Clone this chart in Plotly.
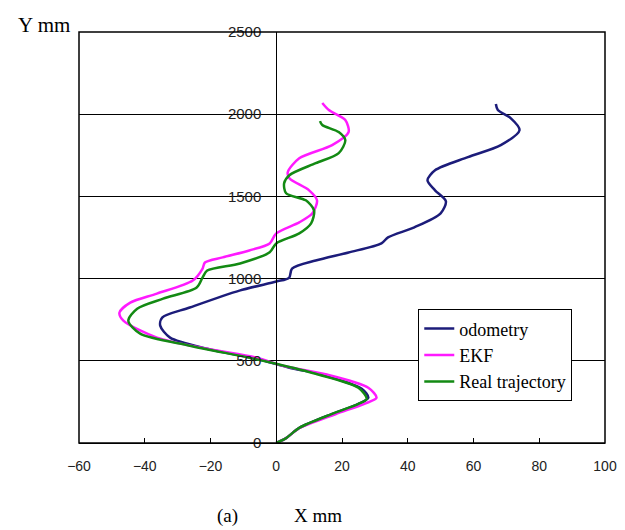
import plotly.graph_objects as go

# Odometry trajectory (X mm, Y mm)
odo_x = [0, 3, 7, 17, 25, 28, 26, 13, 4, -6, -21, -32.3, -35.3, -34.7, -26.3, -11.2, 0, 3.9, 4.8, 12, 22, 32, 34, 42, 50, 51.6, 48.3, 46, 48.3, 58.3, 68.3, 74, 71.3, 67.4, 66.8]
odo_y = [0, 30, 92, 177, 238, 275, 330, 420, 458, 512, 573, 641, 714, 763, 824, 927, 982, 1005, 1061, 1110, 1159, 1214, 1251, 1312, 1397, 1470, 1537, 1598, 1659, 1739, 1812, 1903, 1976, 2025, 2062]

# EKF estimate
ekf_x = [0, 3, 7, 18, 27, 30.5, 28, 15, 2, -6, -21, -36.3, -46.5, -47.7, -44.4, -36.3, -25.4, -22.4, -21.7, -16.3, -8.2, -2, 0, 7, 11, 12.4, 10, 4, 3.5, 7, 17, 22, 21, 16, 14]
ekf_y = [0, 30, 90, 175, 240, 275, 336, 418, 470, 519, 573, 641, 744, 793, 854, 909, 988, 1061, 1098, 1129, 1171, 1214, 1275, 1342, 1397, 1476, 1537, 1610, 1647, 1732, 1812, 1891, 1964, 2025, 2068]

# Real trajectory
real_x = [0, 3, 7, 17, 25, 27.5, 25, 12, 0, -8.2, -26.3, -41.4, -45, -42.3, -34.4, -24.2, -22.4, -21, -11, -2, 0, 7, 10.6, 11.5, 9, 3, 2.4, 4, 12, 19, 21, 19, 14, 13.3]
real_y = [0, 30, 92, 177, 238, 268, 336, 421, 482, 519, 592, 665, 744, 817, 878, 946, 1007, 1049, 1092, 1160, 1214, 1275, 1336, 1415, 1476, 1519, 1580, 1629, 1702, 1763, 1842, 1891, 1934, 1958]

x_ticks = [-60, -40, -20, 0, 20, 40, 60, 80, 100]
y_ticks = [0, 500, 1000, 1500, 2000, 2500]

serif = "Liberation Serif, Times New Roman, serif"
sans = "Liberation Sans, Arial, sans-serif"

fig = go.Figure()
fig.add_trace(go.Scatter(x=odo_x, y=odo_y, mode="lines", name="odometry",
                         line=dict(color="#1c1c7a", width=2.5, shape="spline", smoothing=0.8)))
fig.add_trace(go.Scatter(x=ekf_x, y=ekf_y, mode="lines", name="EKF",
                         line=dict(color="#ff1aff", width=2.5, shape="spline", smoothing=0.8)))
fig.add_trace(go.Scatter(x=real_x, y=real_y, mode="lines", name="Real trajectory",
                         line=dict(color="#138a13", width=2.5, shape="spline", smoothing=0.8)))

fig.update_layout(
    width=617, height=522,
    margin=dict(l=71, r=20, t=24, b=87, autoexpand=False),
    paper_bgcolor="white", plot_bgcolor="white",
    showlegend=True,
    legend=dict(x=0.645, y=0.325, xanchor="left", yanchor="top",
                bgcolor="white", bordercolor="black", borderwidth=1,
                font=dict(family=serif, size=18, color="black"),
                itemwidth=30, tracegroupgap=0),
    xaxis=dict(range=[-60, 100], tickvals=x_ticks, ticks="inside", ticklen=5,
               tickcolor="black", showgrid=False, zeroline=False, automargin=False,
               showline=True, linecolor="black", linewidth=1,
               ticklabelstandoff=10,
               tickfont=dict(family=sans, size=14, color="#222")),
    yaxis=dict(range=[0, 2500], tickvals=y_ticks, anchor="free", position=0.375,
               showgrid=True, gridcolor="black", gridwidth=1, zeroline=False,
               automargin=False,
               showline=True, linecolor="black", linewidth=1, ticks="",
               ticklabelstandoff=12,
               tickfont=dict(family=sans, size=15, color="#222")),
    shapes=[dict(type="rect", xref="paper", yref="paper", x0=0, x1=1, y0=0, y1=1,
                 line=dict(color="black", width=1.5), layer="above")],
    annotations=[
        dict(text="Y mm", xref="paper", yref="paper", x=-0.066, y=1.017,
             xanchor="center", yanchor="middle", showarrow=False,
             font=dict(family=serif, size=21, color="black")),
        dict(text="X mm", xref="paper", yref="paper", x=0.455, y=-0.177,
             xanchor="center", yanchor="middle", showarrow=False,
             font=dict(family=serif, size=19, color="black")),
        dict(text="(a)", xref="paper", yref="paper", x=0.282, y=-0.177,
             xanchor="center", yanchor="middle", showarrow=False,
             font=dict(family=serif, size=19, color="black")),
    ],
)

fig.write_html("out.html")
